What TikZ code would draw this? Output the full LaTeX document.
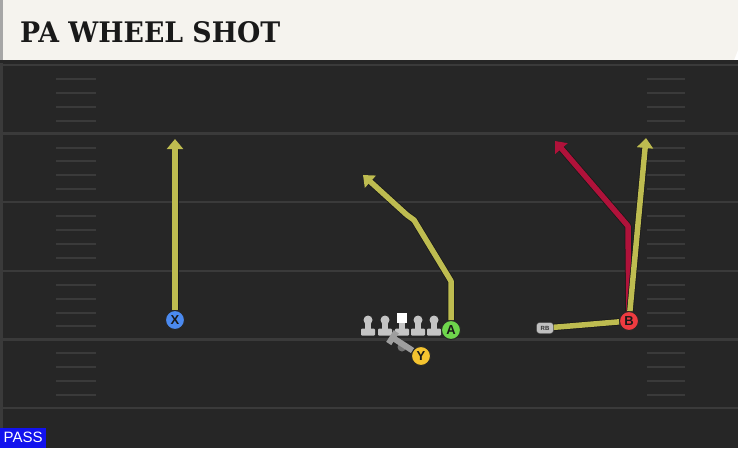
\documentclass[tikz,border=0pt]{standalone}
\usepackage{fontspec}
\setmainfont{DejaVu Serif}
\newfontfamily\tagfont{Liberation Sans}
\usetikzlibrary{arrows.meta}

\definecolor{turf}{HTML}{262626}
\definecolor{chalk}{HTML}{3A3A3A}
\definecolor{paper}{HTML}{F5F3EE}
\definecolor{routeY}{HTML}{BEBC50}
\definecolor{routeR}{HTML}{B0123A}
\definecolor{xblue}{HTML}{4B8AF0}
\definecolor{agreen}{HTML}{6ED64C}
\definecolor{bred}{HTML}{EE3B40}
\definecolor{yyellow}{HTML}{F5C430}
\definecolor{lineman}{HTML}{C4C4C4}
\definecolor{passblue}{HTML}{1212EE}

\tikzset{
  player/.style={circle, draw=black!85, line width=1pt, fill=#1, minimum size=19pt, inner sep=0pt,
    font=\tagfont\bfseries\fontsize{13}{13}\selectfont, text=black!90},
  route/.style={draw=#1, line width=5.5pt, line join=round,
    preaction={draw=black!90, line width=7pt, line join=round}},
  routetip/.style={-{Triangle[length=10pt,width=16pt]}},
  yardline/.style={draw=chalk, line width=2.5pt},
  hashmark/.style={draw=chalk, line width=2pt},
  blockline/.style={draw=black!38, line width=6pt, -{Bar[width=14pt]}},
  rbbox/.style={draw=black!75, fill=black!25, rounded corners=3pt, minimum width=17pt, minimum height=11pt,
    inner sep=0pt, font=\tagfont\bfseries\fontsize{6}{6}\selectfont, text=black!80}
}

\begin{document}
\begin{tikzpicture}[x=1pt,y=-1pt]
  \useasboundingbox (0,0) rectangle (738,448);
  \fill[turf] (0,60) rectangle (738,448);
  \fill[chalk] (0,60) rectangle (3,448);
  \foreach \k in {0,...,5}
    \draw[yardline] (0,{65+68.6*\k}) -- (738,{65+68.6*\k});
  \foreach \k in {0,...,4}
    \foreach \j in {1,...,4} {
      \draw[hashmark] (56,{65+68.6*\k+13.9*\j}) -- (96,{65+68.6*\k+13.9*\j});
      \draw[hashmark] (647,{65+68.6*\k+13.9*\j}) -- (685,{65+68.6*\k+13.9*\j});
    }

  \fill[paper] (0,0) -- (738,0) -- (738,50) -- (734,60) -- (0,60) -- cycle;
  \fill[black!35] (0,0) rectangle (3,60);
  \fill[black!85] (0,60) rectangle (738,63);
  \node[anchor=south west, inner sep=0pt, text=black!90] (title) at (20,43)
    {\resizebox{260pt}{21pt}{\bfseries PA WHEEL SHOT}};

  \foreach \lx in {368,385,402,418,434} {
    \fill[lineman] (\lx,320) circle (4.5pt);
    \fill[lineman] (\lx-3,322) rectangle (\lx+3,331);
    \fill[lineman, rounded corners=1pt] (\lx-7,328.5) rectangle (\lx+7,335.5);
  }
  \node[fill=white, minimum size=10pt, inner sep=0pt] (C) at (402,318) {};
  \node[circle, fill=black!55, minimum size=9pt, inner sep=0pt] (QB) at (402,347) {};

  \node[player=xblue] (X) at (175,320) {X};
  \node[player=agreen] (A) at (451,330) {A};
  \node[player=bred] (B) at (629,321) {B};
  \node[player=yyellow] (Y) at (421,356) {Y};
  \node[rbbox] (RB) at (545,328) {RB};

  \coordinate (xTip) at (175,139);
  \coordinate (aUp) at (451,281);
  \coordinate (aCut) at (414,220);
  \coordinate (aKink) at (407,215);
  \coordinate (aTip) at (363,175);
  \coordinate (bUp) at (628,226);
  \coordinate (bTip) at (555,141);
  \coordinate (bGo) at (646,138);
  \coordinate (rbBend) at (570,326);
  \coordinate (yBlock) at (390,336);

  \draw[blockline] (Y) -- (yBlock);
  \node[player=yyellow] at (Y) {Y};
  \draw[route=routeY, routetip] (X) -- (xTip);
  \draw[route=routeY, routetip] (A) -- (aUp) -- (aCut) -- (aKink) -- (aTip);
  \draw[route=routeR, routetip] (B) -- (bUp) -- (bTip);
  \draw[route=routeY, routetip] (B) -- (bGo);
  \draw[route=routeY] (RB) -- (rbBend) -- (B);

  \node[fill=passblue, text=white, anchor=south west, minimum width=46pt, minimum height=20pt,
    inner sep=0pt, font=\tagfont\fontsize{15}{15}\selectfont] (pass) at (0,448) {PASS};
\end{tikzpicture}
\end{document}
